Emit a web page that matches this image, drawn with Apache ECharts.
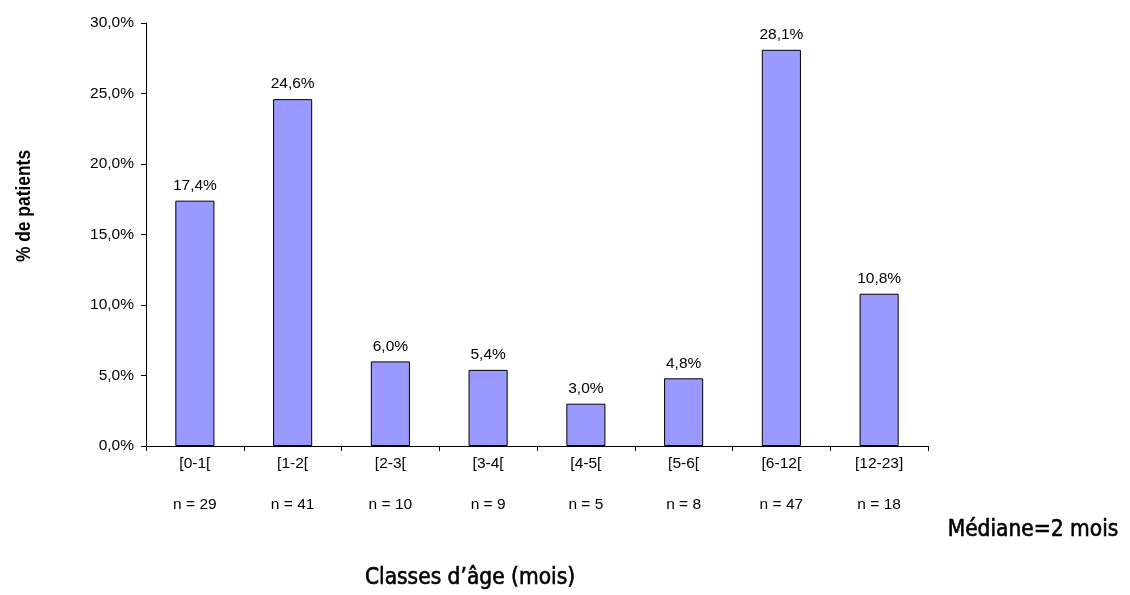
<!DOCTYPE html>
<html>
<head>
<meta charset="utf-8">
<script src="https://cdn.jsdelivr.net/npm/echarts@6/dist/echarts.min.js"></script>
<style>html,body{margin:0;padding:0;background:#fff;}#c{width:1130px;height:595px;}</style>
</head>
<body>
<div id="c"></div>
<script>
const categories = ['[0-1[', '[1-2[', '[2-3[', '[3-4[', '[4-5[', '[5-6[', '[6-12[', '[12-23]'];
const counts = ['n = 29', 'n = 41', 'n = 10', 'n = 9', 'n = 5', 'n = 8', 'n = 47', 'n = 18'];
const percents = [17.4, 24.6, 6.0, 5.4, 3.0, 4.8, 28.1, 10.8];
const yTicks = [0, 5, 10, 15, 20, 25, 30];

const chart = echarts.init(document.getElementById('c'), null, {renderer: 'canvas'});
const fmt = v => v.toFixed(1).replace('.', ',') + '%';
const labelFont = 'Liberation Sans, Arial, sans-serif';
const narrow = '"DejaVu Sans Condensed", "Liberation Sans Narrow", sans-serif';

chart.setOption({
  animation: false,
  backgroundColor: '#fff',
  grid: {left: 146, right: 202, top: 23, bottom: 149, containLabel: false},
  xAxis: [{
    type: 'category',
    data: categories,
    axisLine: {lineStyle: {color: '#000', width: 1}},
    axisTick: {show: true, length: 5, alignWithLabel: false, lineStyle: {color: '#000'}},
    axisLabel: {color: '#000', fontFamily: labelFont, fontSize: 15.5, margin: 10}
  }, {
    type: 'category',
    data: counts,
    position: 'bottom',
    offset: 0,
    axisLine: {show: false},
    axisTick: {show: false},
    axisLabel: {color: '#000', fontFamily: labelFont, fontSize: 15.5, margin: 51}
  }],
  yAxis: {
    type: 'value',
    min: yTicks[0],
    max: yTicks[yTicks.length - 1],
    interval: 5,
    splitLine: {show: false},
    axisLine: {show: true, lineStyle: {color: '#000', width: 1}},
    axisTick: {show: true, length: 5, lineStyle: {color: '#000'}},
    axisLabel: {color: '#000', fontFamily: labelFont, fontSize: 15.5, margin: 12, formatter: v => fmt(v)}
  },
  series: [{
    type: 'bar',
    data: percents,
    barWidth: '40%',
    itemStyle: {color: '#9999FF', borderColor: '#000', borderWidth: 1},
    label: {show: true, position: 'top', distance: 7, color: '#000', fontFamily: labelFont, fontSize: 15.5, formatter: p => fmt(p.value)}
  }],
  graphic: [
    {type: 'text', x: 24, y: 206, rotation: Math.PI / 2, scaleX: 0.87,
     style: {text: '% de patients', fill: '#000', font: 'bold 20px Liberation Sans, Arial, sans-serif', align: 'center', verticalAlign: 'middle'}},
    {type: 'text', x: 470, y: 578,
     style: {text: 'Classes d\u2019âge (mois)', fill: '#000', stroke: '#000', lineWidth: 0.6, font: '22.5px ' + narrow, align: 'center', verticalAlign: 'middle'}},
    {type: 'text', x: 1033, y: 530,
     style: {text: 'Médiane=2 mois', fill: '#000', stroke: '#000', lineWidth: 0.6, font: '22.5px ' + narrow, align: 'center', verticalAlign: 'middle'}}
  ]
});
</script>
</body>
</html>
